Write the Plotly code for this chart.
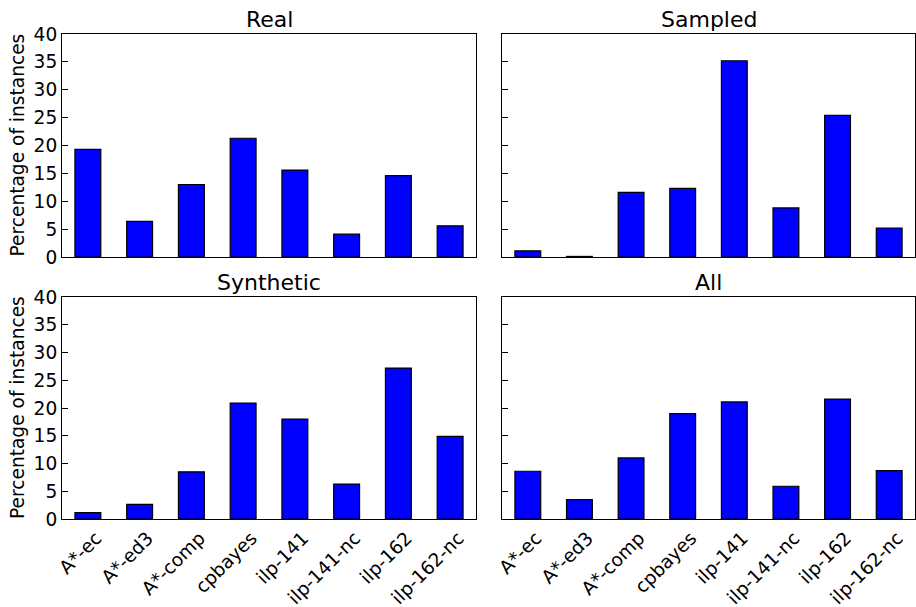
import plotly.graph_objects as go

categories = ["A*-ec", "A*-ed3", "A*-comp", "cpbayes", "ilp-141", "ilp-141-nc", "ilp-162", "ilp-162-nc"]
real = [19.3, 6.4, 13.0, 21.3, 15.6, 4.1, 14.6, 5.6]
sampled = [1.1, 0.1, 11.6, 12.3, 35.2, 8.8, 25.4, 5.2]
synthetic = [1.15, 2.65, 8.5, 20.9, 18.0, 6.3, 27.2, 14.9]
all_vals = [8.6, 3.5, 11.0, 19.0, 21.1, 5.9, 21.6, 8.7]
titles = ["Real", "Sampled", "Synthetic", "All"]
y_ticks = [0, 5, 10, 15, 20, 25, 30, 35, 40]

W, H = 916, 607
FONT = "DejaVu Sans"
FS = 18.6
LABEL_SHIFT = 0.16  # rotated labels sit slightly right of bar centres

# panel pixel boxes (left, right, top, bottom)
boxes = [(62, 476, 34, 257), (502, 915, 34, 257), (62, 476, 297, 519), (502, 915, 297, 519)]
series = [real, sampled, synthetic, all_vals]

fig = go.Figure()
layout = dict(
    width=W, height=H, margin=dict(l=0, r=0, t=0, b=0, autoexpand=False),
    paper_bgcolor="white", plot_bgcolor="white", showlegend=False,
    font=dict(family=FONT, size=FS, color="black"),
)
annotations = []
xs = list(range(len(categories)))
for i, (vals, box, title) in enumerate(zip(series, boxes, titles)):
    l, r, t, b = box
    xa = "xaxis" if i == 0 else f"xaxis{i+1}"
    ya = "yaxis" if i == 0 else f"yaxis{i+1}"
    xref = "x" if i == 0 else f"x{i+1}"
    yref = "y" if i == 0 else f"y{i+1}"
    fig.add_trace(go.Bar(
        x=xs, y=vals, xaxis=xref, yaxis=yref, width=0.5,
        marker=dict(color="#0000ff", line=dict(color="black", width=1.2)),
        hoverinfo="y",
    ))
    bottom_row = i >= 2
    layout[xa] = dict(
        domain=[l / W, r / W], anchor=yref, range=[-0.5, 7.5], automargin=False,
        tickmode="array", tickvals=[x + LABEL_SHIFT for x in xs], ticktext=categories,
        showticklabels=bottom_row, tickangle=-45, ticks="",
        showline=True, mirror=True, linecolor="black", linewidth=1,
        showgrid=False, zeroline=False, tickfont=dict(size=FS, family=FONT),
    )
    layout[ya] = dict(
        domain=[1 - b / H, 1 - t / H], anchor=xref, range=[0, 40], automargin=False,
        tickmode="array", tickvals=y_ticks,
        showticklabels=(i % 2 == 0), ticks="inside", ticklen=6, tickcolor="black",
        showline=True, mirror=True, linecolor="black", linewidth=1,
        showgrid=False, zeroline=False, tickfont=dict(size=FS, family=FONT),
    )
    annotations.append(dict(
        text=title, x=(l + r) / 2 / W, y=1 - t / H, xref="paper", yref="paper",
        xanchor="center", yanchor="bottom", yshift=0, showarrow=False,
        font=dict(size=22, family=FONT, color="black"),
    ))
    if i % 2 == 0:
        annotations.append(dict(
            text="Percentage of instances", x=17 / W, y=1 - (t + b) / 2 / H,
            xref="paper", yref="paper", xanchor="center", yanchor="middle",
            textangle=-90, showarrow=False,
            font=dict(size=FS, family=FONT, color="black"),
        ))
layout["annotations"] = annotations
fig.update_layout(**layout)
fig.write_html(
    "out.html",
    config={"displayModeBar": False},
    post_script="document.body.style.margin='0px';document.body.style.overflow='hidden';",
)
